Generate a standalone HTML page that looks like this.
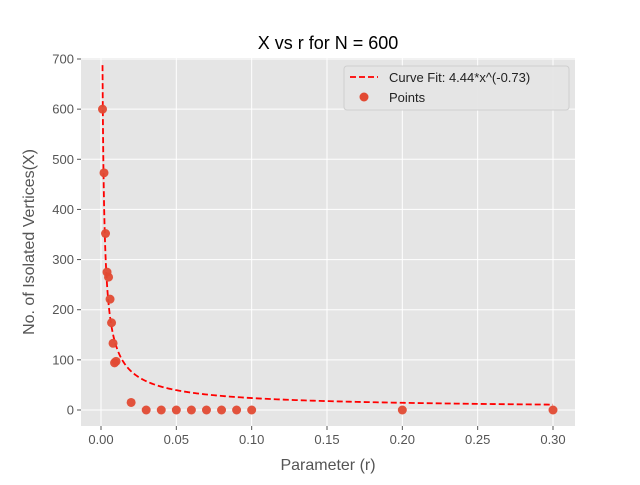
<!DOCTYPE html>
<html><head><meta charset="utf-8"><style>
body{margin:0;background:#fff}
svg{font-family:"Liberation Sans","DejaVu Sans",sans-serif}
</style></head><body>
<svg id="c" width="640" height="480">
<rect x="0" y="0" width="640" height="480" fill="#fff"/>
<rect x="81" y="58" width="494" height="368" fill="#e5e5e5"/>
<g id="grid"></g><g id="ticks"></g><g id="marks"></g>
<text x="328" y="49" text-anchor="middle" font-size="18" fill="#000">X vs r for N = 600</text>
<text x="328" y="470" text-anchor="middle" font-size="16" fill="#555">Parameter (r)</text>
<text transform="translate(34,242) rotate(-90)" text-anchor="middle" font-size="16" fill="#555">No. of Isolated Vertices(X)</text>
<g>
<rect x="344" y="66" width="225" height="44" rx="3" fill="#e5e5e5" stroke="#ccc" opacity="0.9"/>
<line x1="350" y1="77" x2="378" y2="77" stroke="#ff0000" stroke-width="1.8" stroke-dasharray="6,3"/>
<text x="389" y="82" font-size="13" fill="#222">Curve Fit: 4.44*x^(-0.73)</text>
<circle cx="364" cy="97" r="4.5" fill="#e24a33"/>
<text x="389" y="102" font-size="13" fill="#222">Points</text>
</g>
</svg>
<script>
const rValues=[0.001,0.002,0.003,0.004,0.005,0.006,0.007,0.008,0.009,0.01,0.02,0.03,0.04,0.05,0.06,0.07,0.08,0.09,0.1,0.2,0.3];
const xValues=[600,473,352,275,265,221,174,133,94,97,15,0,0,0,0,0,0,0,0,0,0];
const fitA=4.44, fitB=-0.73;
const xTicks=[0,0.05,0.10,0.15,0.20,0.25,0.30];
const xTickLabels=["0.00","0.05","0.10","0.15","0.20","0.25","0.30"];
const yTicks=[0,100,200,300,400,500,600,700];
const NS="http://www.w3.org/2000/svg";
const sx=v=>101+v*(553-101)/0.30;
const sy=v=>410-v*(410-59)/700;
function mk(t,a,p){const e=document.createElementNS(NS,t);for(const k in a)e.setAttribute(k,a[k]);p.appendChild(e);return e;}
const grid=document.getElementById('grid'),ticks=document.getElementById('ticks'),marks=document.getElementById('marks');
xTicks.forEach((v,i)=>{
 const g=mk('line',{x1:sx(v),x2:sx(v),y1:58,y2:426,stroke:'#fff','stroke-width':1},grid);
 
 
 mk('line',{x1:sx(v),x2:sx(v),y1:426,y2:430,stroke:'#555'},ticks);
 const t=mk('text',{x:sx(v),y:444,'text-anchor':'middle','font-size':13,fill:'#555'},ticks);
 t.textContent=xTickLabels[i];
 
 
});
yTicks.forEach(v=>{
 const g=mk('line',{x1:81,x2:575,y1:sy(v),y2:sy(v),stroke:'#fff','stroke-width':1},grid);
 
 
 mk('line',{x1:77,x2:81,y1:sy(v),y2:sy(v),stroke:'#555'},ticks);
 const t=mk('text',{x:74,y:sy(v)+4.5,'text-anchor':'end','font-size':13,fill:'#555'},ticks);
 t.textContent=String(v);
 
 
});
let d='';
const r0=rValues[0],r1=rValues[rValues.length-1];
for(let i=0;i<=400;i++){const r=r0*Math.pow(r1/r0,i/400);d+=(i?'L':'M')+sx(r).toFixed(2)+','+sy(fitA*Math.pow(r,fitB)).toFixed(2);}
const p=mk('path',{d:d,fill:'none',stroke:'#ff0000','stroke-width':1.8,'stroke-dasharray':'6,3'},marks);


rValues.forEach((r,i)=>{
 const c=mk('circle',{cx:sx(r),cy:sy(xValues[i]),r:4.5,fill:'#e24a33','fill-opacity':0.95},marks);
 
 
});
</script>
</body></html>
